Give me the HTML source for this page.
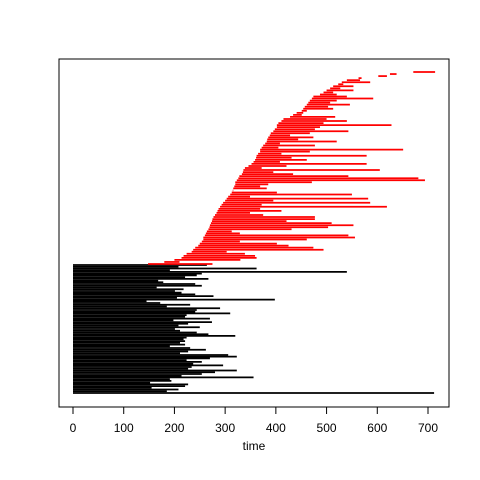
<!DOCTYPE html>
<html><head><meta charset="utf-8"><style>body{margin:0;background:#fff}svg{display:block;font-family:"Liberation Sans",sans-serif}</style></head>
<body>
<svg id="chart" width="480" height="480" xmlns="http://www.w3.org/2000/svg">
<rect x="59" y="59" width="390" height="348" fill="none" stroke="#000" stroke-width="1"/>
<g id="axis"></g>
<g id="black"></g>
<g id="red"></g>
<text x="254" y="450" font-size="12" text-anchor="middle">time</text>
</svg>
<script>
const xTicks=[0,100,200,300,400,500,600,700];
const blackEnds=[264,208,362,191,540,254,244,221,267,168,178,241,254,165,218,201,214,241,277,205,398,145,172,231,185,290,244,241,310,224,221,270,198,274,227,208,250,201,211,244,267,320,224,218,221,211,221,191,231,262,227,211,306,323,270,224,254,237,296,234,227,323,280,254,214,356,191,194,152,227,221,155,208,185,712];
const redStarts=[148,180,200,214,218,224,234,237,241,247,250,254,257,257,260,262,264,267,269,270,272,274,275,277,280,283,285,287,290,293,296,300,303,306,310,313,315,316,318,320,320,323,326,328,333,335,336,339,346,352,356,359,361,362,365,369,369,372,375,379,382,383,385,388,390,395,398,402,402,405,411,415,428,434,441,451,454,457,461,464,467,471,474,487,494,500,507,513,523,530,540,563,602,625,671];
const redEnds=[275,210,330,362,359,339,303,494,474,425,402,329,461,556,543,329,313,431,503,553,510,421,477,477,375,349,411,369,619,372,586,395,582,349,550,402,316,382,369,385,471,694,681,543,434,395,605,372,421,579,408,461,431,579,411,467,651,405,477,408,520,444,474,428,467,543,477,487,628,494,540,500,517,451,454,461,513,503,546,507,520,592,540,520,513,553,527,553,533,586,566,569,619,638,714];
const NS='http://www.w3.org/2000/svg';
const x0=73,x1=428;
function xs(t){return x0+t*(x1-x0)/700;}
function mk(tag,attrs,parent){const e=document.createElementNS(NS,tag);for(const k in attrs)e.setAttribute(k,attrs[k]);parent.appendChild(e);return e;}
const ax=document.getElementById('axis');
const axl=mk('line',{x1:xs(0),x2:xs(700),y1:407,y2:407,stroke:'#000'},ax);


xTicks.forEach(t=>{
 const l=mk('line',{x1:xs(t),x2:xs(t),y1:407,y2:414,stroke:'#000'},ax);
 
 
 const tx=mk('text',{x:xs(t),y:432,'font-size':12,'text-anchor':'middle'},ax);
 tx.textContent=t;
 
 
});
const bg=document.getElementById('black');
const m=blackEnds.length;
blackEnds.forEach((e,j)=>{
 const y=265+j*(393-265)/(m-1);
 const l=mk('line',{x1:xs(0),x2:xs(e),y1:y,y2:y,stroke:'#000','stroke-width':1.75},bg);
 
 
});
const rg=document.getElementById('red');
const n=redStarts.length;
redStarts.forEach((s,i)=>{
 const y=264-i*(264-72)/(n-1);
 const l=mk('line',{x1:xs(s),x2:xs(redEnds[i]),y1:y,y2:y,stroke:'#f00','stroke-width':1.75},rg);
 
 
});
</script>
</body></html>
